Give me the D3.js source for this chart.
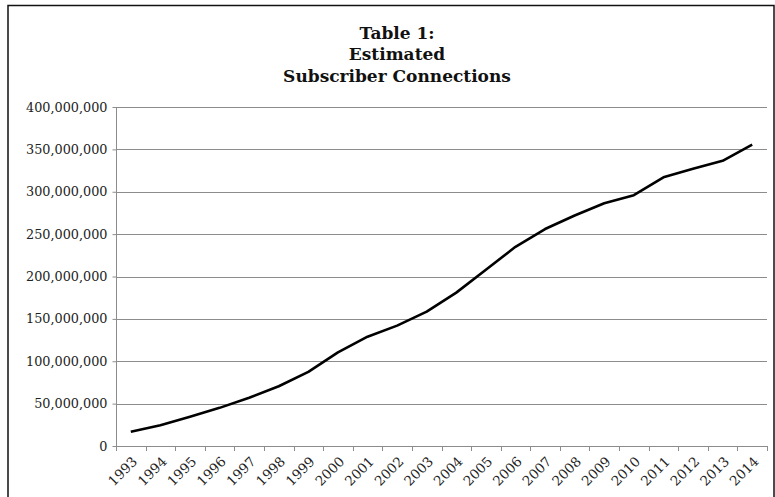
<!DOCTYPE html>
<html>
<head>
<meta charset="utf-8">
<script src="https://cdn.jsdelivr.net/npm/d3@7"></script>
<style>
  body { margin: 0; background: #fff; }
  text { font-family: "DejaVu Serif", serif; }
</style>
</head>
<body>
<script>
var w = 775;
var h = 497;

var titleLines = ["Table 1:", "Estimated", "Subscriber Connections"];
var years = ["1993", "1994", "1995", "1996", "1997", "1998", "1999", "2000", "2001", "2002", "2003",
    "2004", "2005", "2006", "2007", "2008", "2009", "2010", "2011", "2012", "2013", "2014"];
var subscribers = [16900000, 24500000, 34500000, 45000000, 57000000, 70500000, 87500000, 110500000,
    129000000, 142000000, 158500000, 181000000, 208000000, 235000000, 256000000, 272000000,
    286500000, 296000000, 317000000, 327000000, 336500000, 355500000];
var yTicks = [0, 50000000, 100000000, 150000000, 200000000, 250000000, 300000000, 350000000, 400000000];

var dataset = years.map((y, i) => ({ Year: y, Amount: subscribers[i] }));

// plot box (named so it doesn't clash with window.top)
var plotLeft = 116, plotRight = 767, plotTop = 107, plotBottom = 446;

var xScale = d3.scaleBand()
    .domain(years)
    .range([plotLeft, plotRight])
    .padding(0);

var yScale = d3.scaleLinear()
    .domain([0, 400000000])
    .range([plotBottom, plotTop]);

var fmt = d3.format(",");

var svg = d3.select("body")
    .append("svg")
    .attr("width", w)
    .attr("height", h);

// outer frame (bottom edge falls outside the picture)
svg.append("rect")
    .attr("x", 8)
    .attr("y", 5.5)
    .attr("width", 766)
    .attr("height", 520)
    .attr("fill", "none")
    .attr("stroke", "#111")
    .attr("stroke-width", 1.5);

svg.selectAll(".title")
    .data(titleLines)
    .enter()
    .append("text")
    .attr("class", "title")
    .attr("x", 397)
    .attr("y", (d, i) => 38.5 + i * 21.5)
    .attr("text-anchor", "middle")
    .attr("font-size", 17)
    .attr("font-weight", "bold")
    .attr("fill", "#111")
    .text(d => d);

// gridlines
svg.selectAll(".grid")
    .data(yTicks.slice(1))
    .enter()
    .append("line")
    .attr("class", "grid")
    .attr("x1", plotLeft)
    .attr("x2", plotRight)
    .attr("y1", d => Math.round(yScale(d)) + 0.5)
    .attr("y2", d => Math.round(yScale(d)) + 0.5)
    .attr("stroke", "#8c8c8c")
    .attr("stroke-width", 1);

// y axis
var yAxis = d3.axisLeft()
    .scale(yScale)
    .tickValues(yTicks)
    .tickSize(4)
    .tickFormat(fmt);

var gy = svg.append("g")
    .attr("transform", `translate(${plotLeft + 0.5},0)`)
    .call(yAxis);
gy.select(".domain").attr("stroke", "#8c8c8c").attr("d", `M0,${plotTop}V${plotBottom}`);
gy.selectAll(".tick line").attr("stroke", "#8c8c8c");
gy.selectAll(".tick text")
    .attr("font-family", "DejaVu Serif")
    .attr("font-size", 12.8)
    .attr("fill", "#222")
    .attr("x", -9);

// x axis: ticks sit between categories
var edges = years.map(y => xScale(y)).concat([plotRight]);
var gx = svg.append("g");
gx.append("line")
    .attr("x1", plotLeft)
    .attr("x2", plotRight)
    .attr("y1", plotBottom + 0.5)
    .attr("y2", plotBottom + 0.5)
    .attr("stroke", "#8c8c8c");
gx.selectAll(".xtick")
    .data(edges)
    .enter()
    .append("line")
    .attr("class", "xtick")
    .attr("x1", d => Math.round(d) + 0.5)
    .attr("x2", d => Math.round(d) + 0.5)
    .attr("y1", plotBottom)
    .attr("y2", plotBottom + 5)
    .attr("stroke", "#8c8c8c");
gx.selectAll(".xlabel")
    .data(years)
    .enter()
    .append("text")
    .attr("class", "xlabel")
    .attr("transform", d => `translate(${xScale(d) + xScale.bandwidth() / 2 + 4},${plotBottom + 13}) rotate(-45)`)
    .attr("text-anchor", "end")
    .attr("dy", "0.35em")
    .attr("font-size", 13.5)
    .attr("fill", "#222")
    .text(d => d);

// the series line
var line = d3.line()
    .x(d => xScale(d.Year) + xScale.bandwidth() / 2)
    .y(d => yScale(d.Amount));

svg.append("path")
    .datum(dataset)
    .attr("d", line)
    .attr("fill", "none")
    .attr("stroke", "#000")
    .attr("stroke-width", 2.6)
    .attr("stroke-linejoin", "round");
</script>
</body>
</html>
